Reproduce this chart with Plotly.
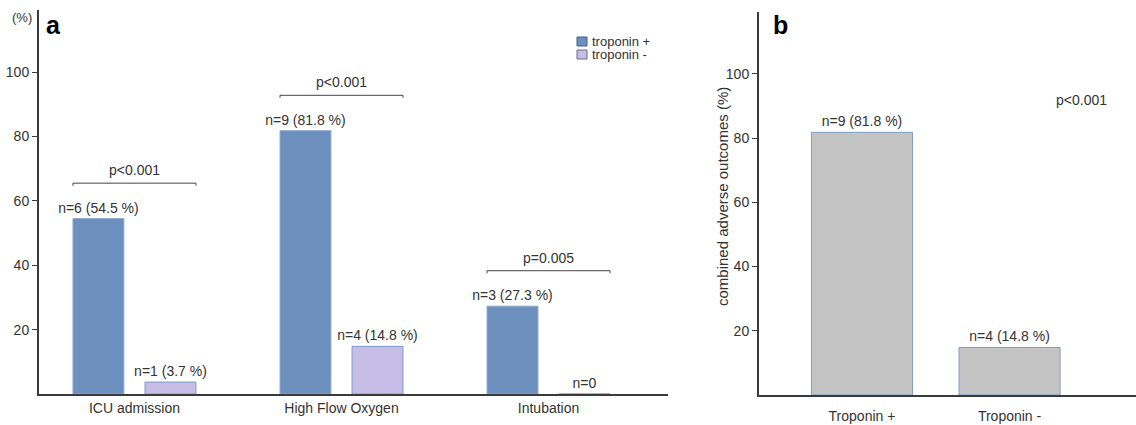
import plotly.graph_objects as go

# ---------------- data ----------------
categories = ["ICU admission", "High Flow Oxygen", "Intubation"]
trop_pos = [54.5, 81.8, 27.3]
trop_neg = [3.7, 14.8, 0.0]
n_pos = [6, 9, 3]
n_neg = [1, 4, 0]
p_values = ["p<0.001", "p<0.001", "p=0.005"]

combined_labels = ["Troponin +", "Troponin -"]
combined_vals = [81.8, 14.8]
combined_n = [9, 4]
combined_p = "p<0.001"

series_names = ["troponin +", "troponin -"]

# ---------------- style ----------------
FONT = "Liberation Sans"
TXT = "#333333"
AX = "#3a3a3a"
C_POS = "#6d8fbe"
C_NEG = "#c6bee6"
C_GRAY = "#c4c4c4"
BAR_W = 0.246
HALF_GROUP = 0.297
W, H = 1136, 425


def lab(n, v):
    return "n=0" if n == 0 else f"n={n} ({v} %)"


fig = go.Figure()

fig.add_trace(go.Bar(
    x=categories, y=trop_pos, name=series_names[0], showlegend=False,
    width=BAR_W, offset=-HALF_GROUP,
    marker=dict(color=C_POS, line=dict(color="#8eaad0", width=1)),
    text=[lab(n, v) for n, v in zip(n_pos, trop_pos)],
    textposition="outside", constraintext="none", cliponaxis=False,
    textfont=dict(family=FONT, size=14, color=TXT),
    xaxis="x", yaxis="y",
))
fig.add_trace(go.Bar(
    x=categories, y=trop_neg, name=series_names[1], showlegend=False,
    width=BAR_W, offset=HALF_GROUP - BAR_W,
    marker=dict(color=C_NEG, line=dict(color="#7d9ccb", width=1)),
    text=[lab(n, v) for n, v in zip(n_neg, trop_neg)],
    textposition="outside", constraintext="none", cliponaxis=False,
    textfont=dict(family=FONT, size=14, color=TXT),
    xaxis="x", yaxis="y",
))
fig.add_trace(go.Bar(
    x=combined_labels, y=combined_vals, showlegend=False,
    width=0.685,
    marker=dict(color=C_GRAY, line=dict(color="#7f9cc4", width=1)),
    text=[lab(n, v) for n, v in zip(combined_n, combined_vals)],
    textposition="outside", constraintext="none", cliponaxis=False,
    textfont=dict(family=FONT, size=14, color=TXT),
    xaxis="x2", yaxis="y2",
))

shapes = []
annotations = []
for i, (a, b, p) in enumerate(zip(trop_pos, trop_neg, p_values)):
    yb = max(a, b) + 11
    x0, x1 = i - HALF_GROUP, i + HALF_GROUP
    shapes.append(dict(
        type="path", xref="x", yref="y",
        path=f"M {x0},{yb-0.8} L {x0},{yb} L {x1},{yb} L {x1},{yb-0.8}",
        line=dict(color="#444444", width=1),
    ))
    annotations.append(dict(
        x=i, y=yb, xref="x", yref="y", text=p, showarrow=False,
        xanchor="center", yanchor="bottom", yshift=3,
        font=dict(family=FONT, size=14, color=TXT),
    ))

# compact legend (swatch + label)
legend_colors = [(C_POS, "#3d5f8e"), (C_NEG, "#6a6a8a")]
for k, (name, (fc, lc)) in enumerate(zip(series_names, legend_colors)):
    yc = 41.5 + 13 * k
    shapes.append(dict(
        type="rect", xref="paper", yref="paper",
        x0=577 / W, x1=587 / W, y0=1 - (yc + 4.5) / H, y1=1 - (yc - 4.5) / H,
        fillcolor=fc, line=dict(color=lc, width=1),
    ))
    annotations.append(dict(
        x=590 / W, y=1 - yc / H, xref="paper", yref="paper", text=name,
        showarrow=False, xanchor="left", yanchor="middle",
        font=dict(family=FONT, size=13, color=TXT),
    ))


def paper_text(x, y, text, size, color=TXT, angle=0, family=FONT):
    return dict(x=x / W, y=1 - y / H, xref="paper", yref="paper", text=text,
                showarrow=False, xanchor="center", yanchor="middle",
                textangle=angle, font=dict(family=family, size=size, color=color))


annotations += [
    dict(x=1.485, y=92, xref="x2", yref="y2", text=combined_p, showarrow=False,
         xanchor="center", yanchor="middle",
         font=dict(family=FONT, size=14, color=TXT)),
    paper_text(22, 17, "(%)", 13),
    paper_text(53, 25, "<b>a</b>", 25, color="#000000"),
    paper_text(780, 25, "<b>b</b>", 25, color="#000000"),
    paper_text(722, 197, "combined adverse outcomes (%)", 15, angle=-90),
]

yax = dict(
    range=[0, 119.3], tickvals=[20, 40, 60, 80, 100], ticks="outside", ticklen=5,
    tickwidth=1, tickcolor=AX, showline=True, linecolor=AX, linewidth=2,
    showgrid=False, zeroline=False, automargin=False,
    tickfont=dict(family=FONT, size=14, color=TXT),
)

fig.update_layout(
    width=W, height=H,
    margin=dict(l=0, r=0, t=0, b=0),
    paper_bgcolor="white", plot_bgcolor="white",
    barmode="overlay",
    showlegend=False,
    xaxis=dict(domain=[39 / W, 668 / W], range=[-0.461, 2.577],
               showline=True, linecolor=AX, linewidth=2, ticks="",
               showgrid=False, zeroline=False, automargin=False,
               ticklabelstandoff=0,
               tickfont=dict(family=FONT, size=14, color=TXT)),
    yaxis=dict(domain=[1 - 394 / H, 1 - 10 / H], anchor="x", **yax),
    xaxis2=dict(domain=[759 / W, 1.0], range=[-0.698, 1.857], anchor="y2",
                showline=True, linecolor=AX, linewidth=2, ticks="",
                showgrid=False, zeroline=False, automargin=False,
                ticklabelstandoff=7,
                tickfont=dict(family=FONT, size=14, color=TXT)),
    yaxis2=dict(domain=[1 - 395 / H, 1 - 12 / H], anchor="x2", **yax),
    shapes=shapes,
    annotations=annotations,
)

fig.write_html("out.html",
               config={"displayModeBar": False},
               post_script="document.body.style.margin='0';document.body.style.padding='0';")
